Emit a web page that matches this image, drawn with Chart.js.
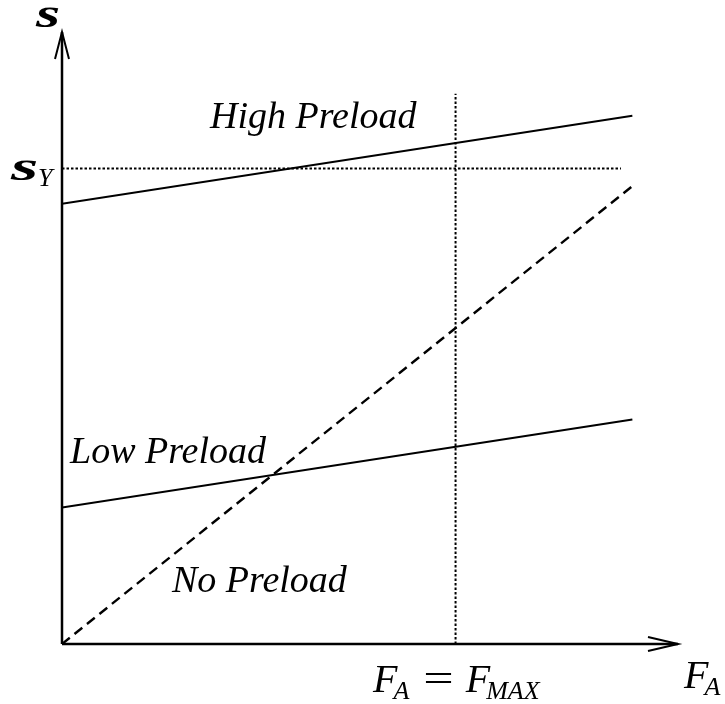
<!DOCTYPE html>
<html>
<head>
<meta charset="utf-8">
<script src="https://cdn.jsdelivr.net/npm/chart.js@4"></script>
<style>
  html, body { margin: 0; padding: 0; background: #fff; }
  #wrap { width: 725px; height: 704px; }
</style>
</head>
<body>
<div id="wrap"><canvas id="chart"></canvas></div>
<script>
// values (x: load units, y: stress units)
const xEnds = [0, 10];
const highPreload = [100, 120];
const lowPreload = [31, 51];
const noPreloadX = [0, 10];
const noPreload = [0, 104];
const sigmaY = 108;
const fMax = 6.9;
const yieldLineEnd = 9.8;
const fMaxLineTop = 125;
const xMax = 10.8;
const yMax = 139;

const toPts = (xs, ys) => xs.map((x, i) => ({ x: x, y: ys[i] }));

const serif = '"Liberation Serif", "Times New Roman", serif';

// axes with arrow heads + text labels
const decor = {
  id: 'decor',
  afterDatasetsDraw(chart) {
    const { ctx, scales: { x, y } } = chart;
    const x0 = x.getPixelForValue(0), y0 = y.getPixelForValue(0);
    const xr = x.getPixelForValue(xMax), yt = y.getPixelForValue(yMax);
    ctx.save();
    ctx.strokeStyle = '#000';
    ctx.lineWidth = 2.5;
    ctx.beginPath();
    ctx.moveTo(x0, y0); ctx.lineTo(xr, y0);
    ctx.moveTo(x0, y0); ctx.lineTo(x0, yt);
    ctx.stroke();
    ctx.lineWidth = 2;
    ctx.beginPath();
    ctx.moveTo(xr - 30, y0 - 7); ctx.lineTo(xr, y0); ctx.lineTo(xr - 30, y0 + 7);
    ctx.moveTo(x0 - 7, yt + 27); ctx.lineTo(x0, yt); ctx.lineTo(x0 + 7, yt + 27);
    ctx.stroke();

    ctx.fillStyle = '#000';
    ctx.textBaseline = 'alphabetic';
    ctx.font = 'italic 38px ' + serif;
    ctx.fillText('High Preload', 210, 128);
    ctx.fillText('Low Preload', 70, 463);
    ctx.fillText('No Preload', 172, 592);

    // sigma labels (drawn as wide bold s)
    const sig = (px, py, sx) => {
      ctx.save();
      ctx.translate(px, py);
      ctx.scale(sx, 1);
      ctx.font = 'bold italic 40px ' + serif;
      ctx.fillText('s', 0, 0);
      ctx.restore();
    };
    sig(36, 27, 1.55);
    sig(11, 180, 1.75);
    ctx.font = 'italic 26px ' + serif;
    ctx.fillText('Y', 38, 186);

    // F_A at the x arrow
    const sub = (main, s, px, py) => {
      ctx.font = 'italic 40px ' + serif;
      ctx.fillText(main, px, py);
      const w = ctx.measureText(main).width;
      ctx.font = 'italic 26px ' + serif;
      ctx.fillText(s, px + w - 4, py + 7);
      return px + w - 4 + ctx.measureText(s).width;
    };
    sub('F', 'A', 684, 688);
    let nx = sub('F', 'A', 373, 692);
    nx += 14;
    ctx.save();
    ctx.translate(nx, 692);
    ctx.scale(1.35, 1);
    ctx.font = '40px ' + serif;
    ctx.fillText('=', 0, 0);
    const eqW = ctx.measureText('=').width * 1.35;
    ctx.restore();
    nx += eqW + 12;
    sub('F', 'MAX', nx, 692);
    ctx.restore();
  }
};

new Chart(document.getElementById('chart'), {
  type: 'scatter',
  data: {
    datasets: [
      {
        label: 'High Preload',
        data: toPts(xEnds, highPreload),
        showLine: true, borderColor: '#000', borderWidth: 2, pointRadius: 0
      },
      {
        label: 'Low Preload',
        data: toPts(xEnds, lowPreload),
        showLine: true, borderColor: '#000', borderWidth: 2, pointRadius: 0
      },
      {
        label: 'No Preload',
        data: toPts(noPreloadX, noPreload),
        showLine: true, borderColor: '#000', borderWidth: 2.4, borderDash: [10, 6], pointRadius: 0
      },
      {
        label: 'sigma Y',
        data: toPts([0, yieldLineEnd], [sigmaY, sigmaY]),
        showLine: true, borderColor: '#000', borderWidth: 2, borderDash: [2.5, 2], pointRadius: 0
      },
      {
        label: 'F max',
        data: toPts([fMax, fMax], [0, fMaxLineTop]),
        showLine: true, borderColor: '#000', borderWidth: 2, borderDash: [2.5, 2], pointRadius: 0
      }
    ]
  },
  options: {
    responsive: true,
    maintainAspectRatio: false,
    animation: false,
    layout: { padding: { left: 62, right: 47, top: 32, bottom: 60 } },
    plugins: { legend: { display: false }, tooltip: { enabled: false } },
    scales: {
      x: { type: 'linear', min: 0, max: xMax, display: false },
      y: { type: 'linear', min: 0, max: yMax, display: false }
    }
  },
  plugins: [decor]
});
</script>
</body>
</html>
